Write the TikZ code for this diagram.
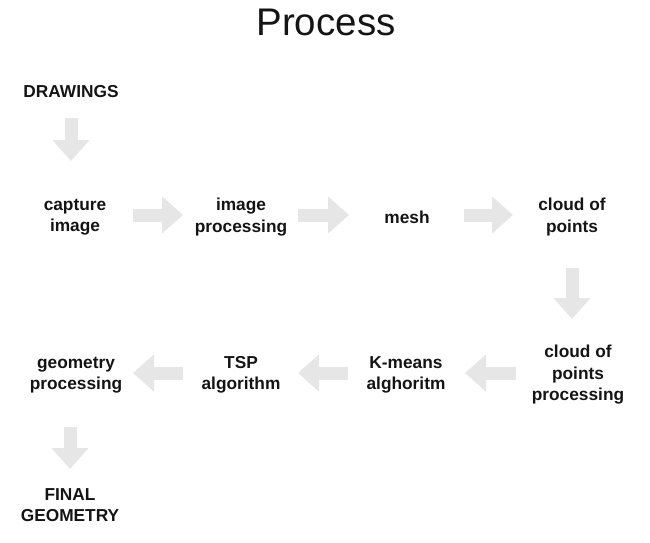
\documentclass[tikz,border=0pt]{standalone}
\usepackage{fontspec}
\setmainfont{Liberation Sans}
\usetikzlibrary{arrows.meta}
\definecolor{arrowgray}{HTML}{E6E6E6}
\definecolor{ink}{HTML}{141414}
\tikzset{
  lbl/.style={font=\fontsize{17.3}{21.5}\selectfont\bfseries, text=ink, align=center, inner sep=0pt},
  fat/.style={draw=arrowgray, line width=13pt, -{Triangle[width=36pt,length=21pt]}},
}
\begin{document}
\begin{tikzpicture}[x=1pt,y=-1pt]
\useasboundingbox (0,0) rectangle (650,543);
\node[font=\fontsize{38.5}{40}\selectfont, text=ink, inner sep=0pt] (title) at (326,22) {Process};

\node[lbl] (drw) at (71,92) {DRAWINGS};
\node[lbl] (cap) at (75,217) {capture\\image};
\node[lbl] (img) at (241,217) {image\\processing};
\node[lbl] (mesh) at (407,217) {mesh};
\node[lbl] (cloud) at (572,217) {cloud of\\points};
\node[lbl] (cpp) at (578,375) {cloud of\\points\\processing};
\node[lbl] (km) at (406,375) {K-means\\alghoritm};
\node[lbl] (tsp) at (241,375) {TSP\\algorithm};
\node[lbl] (geo) at (76,375) {geometry\\processing};
\node[lbl] (fin) at (70,505) {FINAL\\GEOMETRY};

\draw[fat, shorten <=26pt, shorten >=56pt] (drw.center) -- (drw.center |- cap.center);
\draw[fat, shorten <=58pt, shorten >=58pt] ([yshift=2pt]cap.center) -- ([yshift=2pt]img.center);
\draw[fat, shorten <=57pt, shorten >=58pt] ([yshift=2pt]img.center) -- ([yshift=2pt]mesh.center);
\draw[fat, shorten <=57pt, shorten >=59pt] ([yshift=2pt]mesh.center) -- ([yshift=2pt]cloud.center);
\draw[fat, shorten <=51pt, shorten >=56pt] (cloud.center) -- (cloud.center |- cpp.center);
\draw[fat, shorten <=62pt, shorten >=59pt] ([yshift=2pt]cpp.center) -- ([yshift=2pt]km.center);
\draw[fat, shorten <=58pt, shorten >=57pt] ([yshift=2pt]km.center) -- ([yshift=2pt]tsp.center);
\draw[fat, shorten <=58pt, shorten >=57pt] ([yshift=2pt]tsp.center) -- ([yshift=2pt]geo.center);
\draw[fat, shorten <=52pt, shorten >=36pt] (geo.center -| fin.center) -- (fin.center);
\end{tikzpicture}
\end{document}
